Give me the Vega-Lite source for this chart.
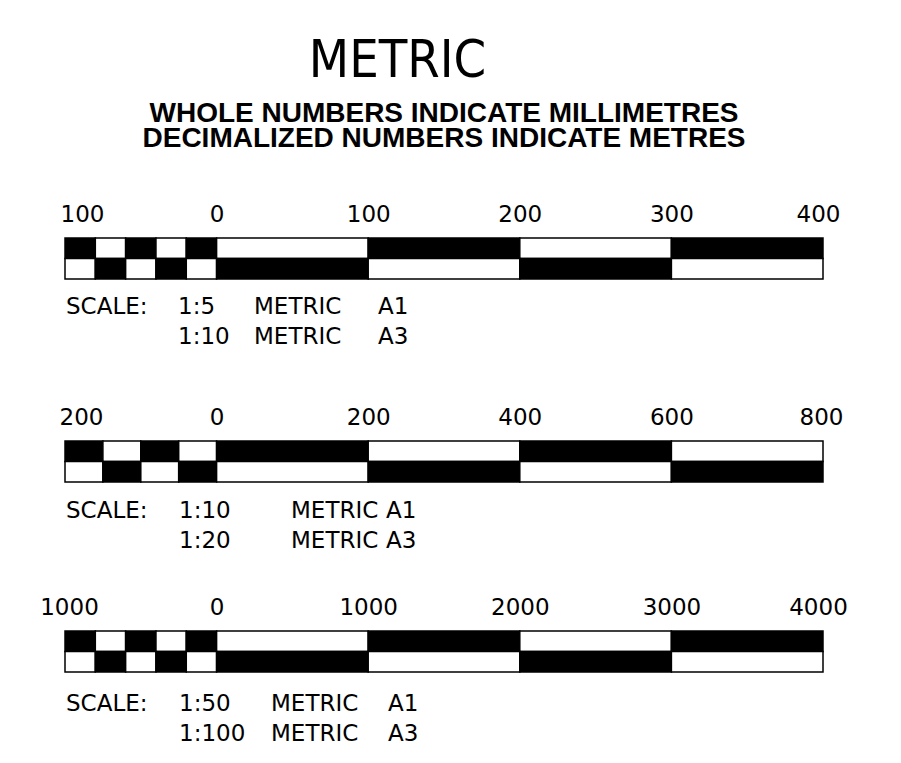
{
  "$schema": "https://vega.github.io/schema/vega-lite/v6.json",
  "background": "white",
  "padding": {"left": 39, "top": 35, "right": 10, "bottom": 10},
  "title": {"text": "METRIC", "font": "DejaVu Sans Condensed, Roboto", "fontSize": 52, "fontWeight": "normal", "color": "black", "anchor": "middle", "dx": -46, "offset": 12},
  "spacing": 0,
  "bounds": "flush",
  "config": {
    "view": {"stroke": null},
    "axis": {"domain": false, "ticks": false, "tickSize": 0, "grid": false, "title": null, "labelFont": "DejaVu Sans", "labelFontSize": 23, "labelColor": "black", "labelPadding": 12, "labelOverlap": false, "labelFlush": false}
  },
  "datasets": {
    "bar1": [
      {"from": -100, "to": -80, "row": "top", "shade": "dark"},
      {"from": -80, "to": -60, "row": "top", "shade": "light"},
      {"from": -60, "to": -40, "row": "top", "shade": "dark"},
      {"from": -40, "to": -20, "row": "top", "shade": "light"},
      {"from": -20, "to": 0, "row": "top", "shade": "dark"},
      {"from": 0, "to": 100, "row": "top", "shade": "light"},
      {"from": 100, "to": 200, "row": "top", "shade": "dark"},
      {"from": 200, "to": 300, "row": "top", "shade": "light"},
      {"from": 300, "to": 400, "row": "top", "shade": "dark"},
      {"from": -100, "to": -80, "row": "bottom", "shade": "light"},
      {"from": -80, "to": -60, "row": "bottom", "shade": "dark"},
      {"from": -60, "to": -40, "row": "bottom", "shade": "light"},
      {"from": -40, "to": -20, "row": "bottom", "shade": "dark"},
      {"from": -20, "to": 0, "row": "bottom", "shade": "light"},
      {"from": 0, "to": 100, "row": "bottom", "shade": "dark"},
      {"from": 100, "to": 200, "row": "bottom", "shade": "light"},
      {"from": 200, "to": 300, "row": "bottom", "shade": "dark"},
      {"from": 300, "to": 400, "row": "bottom", "shade": "light"}
    ],
    "bar2": [
      {"from": -200, "to": -150, "row": "top", "shade": "dark"},
      {"from": -150, "to": -100, "row": "top", "shade": "light"},
      {"from": -100, "to": -50, "row": "top", "shade": "dark"},
      {"from": -50, "to": 0, "row": "top", "shade": "light"},
      {"from": 0, "to": 200, "row": "top", "shade": "dark"},
      {"from": 200, "to": 400, "row": "top", "shade": "light"},
      {"from": 400, "to": 600, "row": "top", "shade": "dark"},
      {"from": 600, "to": 800, "row": "top", "shade": "light"},
      {"from": -200, "to": -150, "row": "bottom", "shade": "light"},
      {"from": -150, "to": -100, "row": "bottom", "shade": "dark"},
      {"from": -100, "to": -50, "row": "bottom", "shade": "light"},
      {"from": -50, "to": 0, "row": "bottom", "shade": "dark"},
      {"from": 0, "to": 200, "row": "bottom", "shade": "light"},
      {"from": 200, "to": 400, "row": "bottom", "shade": "dark"},
      {"from": 400, "to": 600, "row": "bottom", "shade": "light"},
      {"from": 600, "to": 800, "row": "bottom", "shade": "dark"}
    ],
    "bar3": [
      {"from": -1000, "to": -800, "row": "top", "shade": "dark"},
      {"from": -800, "to": -600, "row": "top", "shade": "light"},
      {"from": -600, "to": -400, "row": "top", "shade": "dark"},
      {"from": -400, "to": -200, "row": "top", "shade": "light"},
      {"from": -200, "to": 0, "row": "top", "shade": "dark"},
      {"from": 0, "to": 1000, "row": "top", "shade": "light"},
      {"from": 1000, "to": 2000, "row": "top", "shade": "dark"},
      {"from": 2000, "to": 3000, "row": "top", "shade": "light"},
      {"from": 3000, "to": 4000, "row": "top", "shade": "dark"},
      {"from": -1000, "to": -800, "row": "bottom", "shade": "light"},
      {"from": -800, "to": -600, "row": "bottom", "shade": "dark"},
      {"from": -600, "to": -400, "row": "bottom", "shade": "light"},
      {"from": -400, "to": -200, "row": "bottom", "shade": "dark"},
      {"from": -200, "to": 0, "row": "bottom", "shade": "light"},
      {"from": 0, "to": 1000, "row": "bottom", "shade": "dark"},
      {"from": 1000, "to": 2000, "row": "bottom", "shade": "light"},
      {"from": 2000, "to": 3000, "row": "bottom", "shade": "dark"},
      {"from": 3000, "to": 4000, "row": "bottom", "shade": "light"}
    ],
    "text1": [
      {"col": 1, "line": 1, "text": "SCALE:"},
      {"col": 2, "line": 1, "text": "1:5"},
      {"col": 3, "line": 1, "text": "METRIC"},
      {"col": 4, "line": 1, "text": "A1"},
      {"col": 2, "line": 2, "text": "1:10"},
      {"col": 3, "line": 2, "text": "METRIC"},
      {"col": 4, "line": 2, "text": "A3"}
    ],
    "text2": [
      {"col": 1, "line": 1, "text": "SCALE:"},
      {"col": 2, "line": 1, "text": "1:10"},
      {"col": 3, "line": 1, "text": "METRIC"},
      {"col": 4, "line": 1, "text": "A1"},
      {"col": 2, "line": 2, "text": "1:20"},
      {"col": 3, "line": 2, "text": "METRIC"},
      {"col": 4, "line": 2, "text": "A3"}
    ],
    "text3": [
      {"col": 1, "line": 1, "text": "SCALE:"},
      {"col": 2, "line": 1, "text": "1:50"},
      {"col": 3, "line": 1, "text": "METRIC"},
      {"col": 4, "line": 1, "text": "A1"},
      {"col": 2, "line": 2, "text": "1:100"},
      {"col": 3, "line": 2, "text": "METRIC"},
      {"col": 4, "line": 2, "text": "A3"}
    ]
  },
  "vconcat": [
    {
      "width": 758, "height": 41,
      "title": {"text": ["WHOLE NUMBERS INDICATE MILLIMETRES", "DECIMALIZED NUMBERS INDICATE METRES"], "font": "Liberation Sans", "fontSize": 28, "fontWeight": "bold", "lineHeight": 25, "color": "black", "anchor": "middle", "offset": 50},
      "data": {"name": "bar1"},
      "mark": {"type": "rect", "stroke": "black", "strokeWidth": 1.5},
      "encoding": {
        "x": {"field": "from", "type": "quantitative", "scale": {"domain": [-100, 400], "nice": false, "zero": false},
              "axis": {"orient": "top", "values": [-100, 0, 100, 200, 300, 400], "labelExpr": "'' + abs(datum.value)",
                       "labelOffset": {"condition": [{"test": "datum.value < 0", "value": 17}, {"test": "datum.value == 400", "value": -5}], "value": 0}}},
        "x2": {"field": "to"},
        "y": {"field": "row", "type": "nominal", "scale": {"domain": ["top", "bottom"], "paddingInner": 0, "paddingOuter": 0}, "axis": null},
        "color": {"field": "shade", "type": "nominal", "scale": {"domain": ["dark", "light"], "range": ["black", "white"]}, "legend": null}
      }
    },
    {
      "width": 758, "height": 162,
      "data": {"name": "text1"},
      "mark": {"type": "text", "align": "left", "baseline": "middle", "font": "DejaVu Sans", "fontSize": 23, "color": "black"},
      "encoding": {
        "x": {"field": "col", "type": "quantitative", "scale": {"domain": [1, 2, 3, 4], "range": [1, 113, 189, 313]}, "axis": null},
        "y": {"field": "line", "type": "quantitative", "scale": {"domain": [1, 2], "range": [27.5, 57.5]}, "axis": null},
        "text": {"field": "text"}
      }
    },
    {
      "width": 758, "height": 41,
      "data": {"name": "bar2"},
      "mark": {"type": "rect", "stroke": "black", "strokeWidth": 1.5},
      "encoding": {
        "x": {"field": "from", "type": "quantitative", "scale": {"domain": [-200, 800], "nice": false, "zero": false},
              "axis": {"orient": "top", "values": [-200, 0, 200, 400, 600, 800], "labelExpr": "'' + abs(datum.value)",
                       "labelOffset": {"condition": [{"test": "datum.value < 0", "value": 16}, {"test": "datum.value == 800", "value": -2}], "value": 0}}},
        "x2": {"field": "to"},
        "y": {"field": "row", "type": "nominal", "scale": {"domain": ["top", "bottom"], "paddingInner": 0, "paddingOuter": 0}, "axis": null},
        "color": {"field": "shade", "type": "nominal", "scale": {"domain": ["dark", "light"], "range": ["black", "white"]}, "legend": null}
      }
    },
    {
      "width": 758, "height": 149,
      "data": {"name": "text2"},
      "mark": {"type": "text", "align": "left", "baseline": "middle", "font": "DejaVu Sans", "fontSize": 23, "color": "black"},
      "encoding": {
        "x": {"field": "col", "type": "quantitative", "scale": {"domain": [1, 2, 3, 4], "range": [1, 114, 226, 321]}, "axis": null},
        "y": {"field": "line", "type": "quantitative", "scale": {"domain": [1, 2], "range": [29, 59]}, "axis": null},
        "text": {"field": "text"}
      }
    },
    {
      "width": 758, "height": 41,
      "data": {"name": "bar3"},
      "mark": {"type": "rect", "stroke": "black", "strokeWidth": 1.5},
      "encoding": {
        "x": {"field": "from", "type": "quantitative", "scale": {"domain": [-1000, 4000], "nice": false, "zero": false},
              "axis": {"orient": "top", "values": [-1000, 0, 1000, 2000, 3000, 4000], "labelExpr": "'' + abs(datum.value)",
                       "labelOffset": {"condition": [{"test": "datum.value < 0", "value": 4}, {"test": "datum.value == 4000", "value": -5}], "value": 0}}},
        "x2": {"field": "to"},
        "y": {"field": "row", "type": "nominal", "scale": {"domain": ["top", "bottom"], "paddingInner": 0, "paddingOuter": 0}, "axis": null},
        "color": {"field": "shade", "type": "nominal", "scale": {"domain": ["dark", "light"], "range": ["black", "white"]}, "legend": null}
      }
    },
    {
      "width": 758, "height": 75,
      "data": {"name": "text3"},
      "mark": {"type": "text", "align": "left", "baseline": "middle", "font": "DejaVu Sans", "fontSize": 23, "color": "black"},
      "encoding": {
        "x": {"field": "col", "type": "quantitative", "scale": {"domain": [1, 2, 3, 4], "range": [1, 114, 206, 323]}, "axis": null},
        "y": {"field": "line", "type": "quantitative", "scale": {"domain": [1, 2], "range": [32, 62]}, "axis": null},
        "text": {"field": "text"}
      }
    }
  ]
}
